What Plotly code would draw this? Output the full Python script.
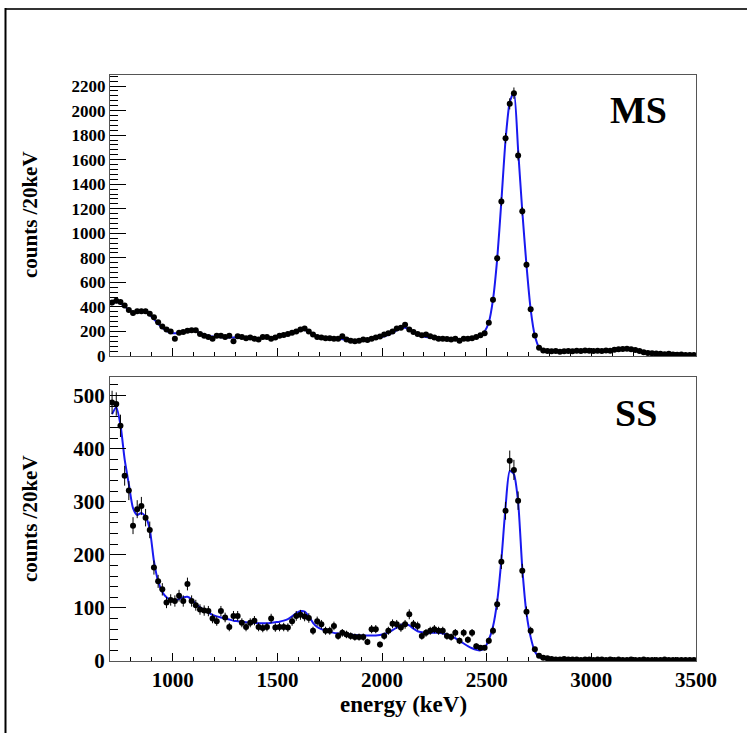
import numpy as np
import plotly.graph_objects as go

# bin centres (20 keV bins, 700-3500 keV)
energy = list(range(710, 3500, 20))

ms_counts = [
    435, 450, 440, 412, 375, 350, 365, 365, 365, 345,   # 710-890
    315, 275, 240, 215, 200, 140, 190, 195, 205, 210,   # 910-1090
    210, 180, 165, 155, 140, 165, 165, 155, 165, 120,   # 1110-1290
    160, 155, 145, 150, 140, 135, 155, 155, 140, 150,   # 1310-1490
    165, 172, 180, 190, 200, 215, 225, 200, 175, 155,   # 1510-1690
    150, 145, 145, 140, 140, 160, 135, 125, 120, 125,   # 1710-1890
    135, 130, 140, 150, 158, 175, 185, 200, 225, 230,   # 1910-2090
    255, 215, 195, 180, 170, 175, 160, 150, 140, 140,   # 2110-2290
    138, 135, 140, 125, 140, 140, 145, 155, 170, 185,   # 2310-2490
    270, 458, 797, 1259, 1775, 2055, 2142, 1634, 1180, 743,  # 2510-2690
    380, 167, 67, 45, 40, 38, 40, 35, 38, 40,           # 2710-2890
    38, 42, 40, 45, 42, 40, 42, 40, 45, 42,             # 2910-3090
    50, 55, 58, 60, 55, 48, 40, 30, 25, 22,             # 3110-3290
    20, 18, 15, 18, 12, 10, 12, 8, 8, 8,                # 3310-3490
]

ms_fit = [
    430, 440, 430, 405, 375, 358, 362, 365, 355, 335,
    300, 262, 230, 205, 190, 185, 188, 195, 202, 205,
    200, 188, 175, 165, 158, 155, 153, 152, 150, 150,
    150, 148, 147, 147, 146, 146, 146, 147, 150, 155,
    160, 166, 173, 182, 195, 210, 212, 198, 178, 162,
    152, 148, 145, 143, 140, 137, 133, 128, 125, 124,
    126, 130, 136, 143, 150, 160, 172, 188, 208, 225,
    230, 218, 195, 175, 162, 155, 150, 146, 143, 140,
    138, 137, 136, 136, 137, 138, 142, 150, 165, 200,
    275, 460, 790, 1260, 1760, 2070, 2150, 1680, 1180, 740,
    380, 165, 72, 48, 42, 40, 40, 40, 40, 40,
    40, 41, 41, 42, 42, 42, 43, 43, 44, 45,
    48, 52, 56, 57, 55, 50, 43, 35, 28, 23,
    20, 17, 15, 13, 12, 11, 10, 9, 9, 8,
]

ss_counts = [
    487, 484, 443, 349, 321, 255, 286, 292, 270, 247,   # 710-890
    176, 150, 135, 110, 115, 113, 123, 113, 145, 113,   # 910-1090
    105, 97, 95, 94, 80, 75, 94, 82, 64, 85,            # 1110-1290
    85, 72, 64, 72, 76, 64, 62, 64, 80, 63,             # 1310-1490
    64, 64, 63, 75, 85, 87, 84, 81, 57, 75,             # 1510-1690
    69, 57, 57, 66, 47, 53, 50, 47, 45, 45,             # 1710-1890
    45, 36, 60, 60, 31, 47, 57, 70, 69, 63,             # 1910-2090
    69, 88, 69, 66, 47, 53, 57, 60, 57, 57,             # 2110-2290
    47, 45, 53, 38, 53, 40, 53, 28, 25, 25,             # 2310-2490
    38, 57, 107, 187, 283, 377, 360, 302, 170, 93,      # 2510-2690
    57, 22, 10, 6, 5, 4, 3, 3, 4, 3,                    # 2710-2890
    3, 3, 2, 3, 3, 2, 3, 3, 2, 3,                       # 2910-3090
    2, 3, 2, 2, 3, 2, 2, 3, 2, 2,                       # 3110-3290
    2, 2, 3, 2, 2, 2, 2, 2, 2, 2,                       # 3310-3490
]

ss_fit = [
    465, 478, 445, 380, 333, 288, 275, 279, 272, 248,
    188, 150, 130, 120, 115, 114, 117, 120, 121, 116,
    108, 101, 96, 91, 87, 84, 82, 80, 78, 76,
    75, 74, 73, 72, 72, 71, 71, 71, 72, 73,
    74, 76, 79, 84, 90, 94, 93, 84, 72, 64,
    60, 57, 55, 53, 52, 51, 50, 50, 49, 48,
    48, 48, 48, 48, 49, 51, 54, 58, 63, 68,
    70, 67, 61, 56, 54, 53, 53, 53, 53, 52,
    50, 47, 43, 38, 33, 28, 24, 21, 20, 25,
    40, 65, 112, 190, 290, 358, 352, 300, 175, 90,
    45, 18, 8, 4, 3, 3, 3, 3, 3, 3,
    3, 3, 3, 3, 3, 3, 3, 3, 3, 3,
    3, 3, 3, 3, 3, 3, 3, 3, 3, 3,
    3, 3, 3, 3, 3, 3, 2, 2, 2, 2,
]

W, H = 747, 733
def px(x):
    return x / W
def py(y):
    return 1 - y / H

SERIF = "Liberation Serif"
LINE_BLUE = "rgb(25,25,240)"

fig = go.Figure()

for cnt, fit, xa, ya in [(ms_counts, ms_fit, "x", "y"), (ss_counts, ss_fit, "x2", "y2")]:
    fig.add_trace(go.Scatter(
        x=energy, y=fit, mode="lines", xaxis=xa, yaxis=ya,
        line=dict(color=LINE_BLUE, width=2, shape="spline", smoothing=0.6),
        hoverinfo="skip", showlegend=False))
    fig.add_trace(go.Scatter(
        x=energy, y=cnt, mode="markers", xaxis=xa, yaxis=ya,
        marker=dict(color="black", size=6),
        error_y=dict(type="data", array=list(np.sqrt(cnt)), color="black", thickness=1, width=0),
        showlegend=False))

axis_common = dict(
    showline=True, linecolor="#555555", linewidth=1, mirror=True,
    ticks="inside", tickcolor="black", showgrid=False, zeroline=False,
    automargin=False,
)

def tf(size):
    return dict(family=SERIF, size=size, color="black", weight="bold")

fig.update_layout(
    template="none",
    width=W, height=H, autosize=False,
    margin=dict(l=0, r=0, t=0, b=0, pad=0),
    paper_bgcolor="white", plot_bgcolor="white",
    xaxis=dict(domain=[px(110), px(696)], anchor="y", range=[700, 3500],
               dtick=500, ticklen=8, showticklabels=False,
               minor=dict(dtick=100, ticklen=4, ticks="inside", tickcolor="black"),
               **axis_common),
    yaxis=dict(domain=[py(356), py(75)], anchor="x", range=[0, 2290],
               dtick=200, ticklen=16, tickfont=tf(17),
               minor=dict(dtick=40, ticklen=8, ticks="inside", tickcolor="black"),
               **axis_common),
    xaxis2=dict(domain=[px(110), px(696)], anchor="y2", range=[700, 3500],
                dtick=500, ticklen=8, tickfont=tf(21),
                minor=dict(dtick=100, ticklen=4, ticks="inside", tickcolor="black"),
                **axis_common),
    yaxis2=dict(domain=[py(661), py(377)], anchor="x2", range=[0, 535],
                dtick=100, ticklen=16, tickfont=tf(21),
                minor=dict(dtick=20, ticklen=8, ticks="inside", tickcolor="black"),
                **axis_common),
)

def label(x, y, text, size, angle=0):
    fig.add_annotation(x=px(x), y=py(y), xref="paper", yref="paper", text=text,
                       xanchor="center", yanchor="middle", showarrow=False,
                       textangle=angle, font=tf(size))

label(638, 110, "MS", 38)
label(636, 413, "SS", 38)
label(30, 215, "counts /20keV", 21, -90)
label(30, 519, "counts /20keV", 21, -90)
label(403, 704, "energy (keV)", 23)

# outer frame (top and left edges visible)
fig.add_shape(type="line", xref="paper", yref="paper", x0=px(5), x1=px(760), y0=py(9), y1=py(9),
              line=dict(color="#333333", width=2))
fig.add_shape(type="line", xref="paper", yref="paper", x0=px(5.5), x1=px(5.5), y0=py(8), y1=py(760),
              line=dict(color="black", width=2))

fig.write_html("out.html")
